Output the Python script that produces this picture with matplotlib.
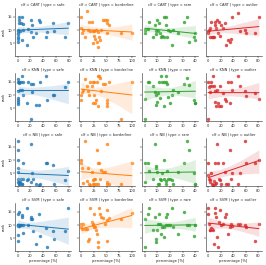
import matplotlib
matplotlib.use("Agg")
import matplotlib.pyplot as plt
import numpy as np
import seaborn as sns

sns.set_style("ticks")

clfs = ["CART", "KNN", "NB", "SVM"]
types = ["safe", "borderline", "rare", "outlier"]
colors = ["#1f77b4", "#ff7f0e", "#2ca02c", "#d62728"]

# percentage of examples of each type, per dataset
safe_x = [0, 0, 0, 0, 0, 0, 0.5, 1.5, 2.5, 3, 4, 5, 6.5, 7.5, 7.7, 9, 14, 15.5,
          20.5, 21.5, 23, 24, 29, 33.5, 35, 44, 45, 55, 56, 74, 79]
borderline_x = [0, 0, 1, 4.6, 8, 12.5, 14.5, 16, 18, 21, 23, 24, 26, 26, 28, 30,
                31, 33, 34, 36, 37, 40, 44, 47, 51, 51, 51, 54, 78, 100]
rare_x = [0, 0, 2.7, 3.5, 6.7, 8, 8.8, 9.3, 10.1, 10.7, 11.5, 12, 13.3, 14.1, 15,
          15.5, 16.5, 16.8, 17.3, 18.7, 20, 21.3, 22, 26, 30.7, 33, 34.7, 38.7, 39.5, 40]
outlier_x = [0, 0, 1.6, 2.7, 3.7, 5.3, 6.9, 8, 9.6, 10.6, 11.7, 13.3, 14.4, 16, 17.6,
             19.7, 21, 24, 26.6, 28.2, 32, 34.6, 37, 38.8, 48, 50.5, 58.5, 61, 74.5, 81.4]

# ranks
cart_safe = [8.5, 7.3, 6.5, 5.6, 10, 9.5, 9, 14.9, 12.5, 13.7, 9.7, 12.6, 6.2, 14.9, 10,
             12.3, 4.4, 10.5, 9.3, 13.7, 12, 7.3, 9, 13.7, 13, 7.3, 9.4, 12.8, 9.7, 7.3, 12.8]
knn_safe = [15.9, 15, 11.4, 9, 8.2, 7.5, 6.6, 15, 15, 14.5, 12, 15, 12, 17, 15, 10, 7,
            15, 1.2, 14.1, 11.2, 14.1, 6.3, 6.3, 15, 17.1, 8.1, 10.2, 10.2, 13.2, 15]
nb_safe = [17.2, 13.7, 10.2, 7.1, 5.6, 3.1, 1.9, 0.9, 0.9, 1.9, 1.9, 2.9, 1.2, 0.9, 9,
           3, 2.5, 3, 1.9, 16.2, 5, 3.1, 1, 0.6, 0.9, 9, 9, 8.1, 0.9, 2.5, 6]
svm_safe = [14.2, 10, 10, 9.8, 6.2, 4, 10, 10.2, 9.8, 15.1, 10, 10, 13.8, 13.2, 7, 10,
            16.4, 10, 12.3, 13.2, 12.3, 7.8, 3, 14.1, 5.9, 9.1, 1.7, 7.8, 4.9, 7.8, 16.4]

cart_borderline = [14.9, 10.8, 9, 10, 7.3, 17.2, 10.2, 13.1, 9.7, 13.1, 9.7, 5, 9.7, 7.9,
                   6.7, 10, 5.6, 9.3, 3.5, 7.3, 6.2, 10.2, 13.7, 13.7, 13.7, 12.8, 9, 12, 9, 9]
knn_borderline = [10.2, 8.2, 11, 12, 16, 13.3, 11.4, 10, 15, 13.5, 15, 7.2, 15, 10, 7.2,
                  8, 15, 17.1, 6, 17.1, 16.3, 11.4, 14.2, 14.2, 7.2, 6, 8.2, 15, 1.2, 15]
nb_borderline = [10.2, 9, 7, 1.6, 17.2, 2, 7.1, 1.2, 0.6, 5.6, 2.5, 0.9, 0.9, 3.1, 3.1,
                 0.9, 13.7, 9, 0.9, 9, 3.1, 6.2, 5.6, 5.6, 16.2, 1.9, 0.9, 0.9, 0.9, 9]
svm_borderline = [10.6, 9.4, 8.7, 10.6, 8.7, 8.7, 4.2, 4.9, 16.4, 11.3, 10.6, 10, 14.2,
                  9.4, 9.4, 8, 6.8, 3.6, 1.7, 16.4, 14.2, 13.2, 12.6, 10.6, 15.8, 4.2,
                  12, 12.6, 12.2, 14.5]

cart_rare = [9.1, 10, 10.5, 13.1, 7.3, 12, 8.5, 9.7, 13.7, 9.5, 12.6, 9.1, 7.3, 7.9, 7.3,
             14.9, 14.9, 12, 7.3, 10, 9.7, 4.4, 10.2, 9.1, 13.1, 14.9, 5.6, 7.3, 9, 6.2]
knn_rare = [8.4, 1.2, 15, 15, 13.3, 11.1, 6.3, 10.2, 7.5, 10.8, 15, 9, 17.1, 15, 6, 15,
            17.1, 15, 14.2, 9.4, 7.2, 10, 12, 11, 14.2, 16.3, 13.9, 8.2, 7.2, 7.2]
nb_rare = [9.1, 1.9, 9.1, 5.9, 2.9, 16.2, 7.9, 7.1, 5.5, 0.9, 0.9, 3.1, 2.5, 5, 10, 3.1,
           0.9, 2, 5.9, 3.1, 3.1, 2.5, 0.9, 5.4, 9.1, 17.1, 13.7, 5, 0.9, 0.9]
svm_rare = [12.2, 1.7, 14.2, 16.4, 8, 13.2, 3.6, 4.9, 8, 10.6, 14.2, 10.6, 6.8, 9.4, 9.4,
            5.5, 10, 13.2, 14.2, 10, 10, 16.4, 9.4, 6.8, 15.1, 10, 10, 5.8, 10, 10]

cart_outlier = [9.1, 9.5, 10, 10.8, 7.3, 13.1, 7.3, 7.3, 7.3, 12, 13.1, 10.8, 13.7, 9.1,
                13.1, 7.9, 12, 10.8, 12.6, 4.4, 6.2, 5.6, 6.5, 14.9, 16.6, 9.7, 10.2,
                9.1, 9.1, 14.9]
knn_outlier = [15, 1.2, 13, 13.3, 11, 15, 13.3, 17.1, 13.5, 11.4, 7.5, 6, 12, 7.2, 6,
               13.3, 6, 10.8, 8.4, 7.8, 15, 7.2, 15, 12, 17.1, 13.3, 11.4, 9.5, 10.8, 8.4]
nb_outlier = [9.1, 4.4, 3.1, 2.5, 1.9, 5, 0.9, 0.6, 2, 1, 9.1, 1.5, 16.2, 9.1, 3.1, 2.5,
              0.9, 9, 5.5, 0.9, 0.9, 13.7, 3.1, 5, 0.9, 5, 17.1, 9, 8.8, 10.2]
svm_outlier = [16.4, 14.2, 10.6, 8.3, 8, 9.1, 8.5, 8, 2.9, 16.4, 14.7, 13, 5.5, 1.7, 11.3,
               15.8, 10, 10.6, 13.2, 14.2, 6.8, 9.4, 10.6, 9.5, 10.6, 10.6, 10, 9.4, 4.2, 10.6]

xs = [safe_x, borderline_x, rare_x, outlier_x]
ranks = [
    [cart_safe, cart_borderline, cart_rare, cart_outlier],
    [knn_safe, knn_borderline, knn_rare, knn_outlier],
    [nb_safe, nb_borderline, nb_rare, nb_outlier],
    [svm_safe, svm_borderline, svm_rare, svm_outlier],
]
xticks = [[0, 20, 40, 60, 80], [0, 25, 50, 75, 100], [0, 10, 20, 30, 40], [0, 20, 40, 60, 80]]

W, H = 266, 265
fig = plt.figure(figsize=(W / 100, H / 100), dpi=100)
lefts = [15, 78.5, 142, 205.5]
tops = [8, 73, 138, 203]
aw, ah = 56, 48
fs = 2.6

for i, clf in enumerate(clfs):
    for j, t in enumerate(types):
        ax = fig.add_axes([lefts[j] / W, 1 - (tops[i] + ah) / H, aw / W, ah / H])
        sns.regplot(x=np.array(xs[j]), y=np.array(ranks[i][j]), ax=ax, color=colors[j],
                    seed=0, scatter_kws=dict(s=6, linewidths=0),
                    line_kws=dict(lw=0.7))
        ax.set_ylim(0.3, 18.3)
        ax.set_yticks([5, 10, 15])
        ax.set_xticks(xticks[j])
        ax.tick_params(labelsize=fs, length=1.2, width=0.35, pad=1)
        for s in ["top", "right"]:
            ax.spines[s].set_visible(False)
        for s in ["left", "bottom"]:
            ax.spines[s].set_linewidth(0.4)
        ax.set_title(f"clf = {clf} | type = {t}", fontsize=fs, pad=1.5)
        if j == 0:
            ax.set_ylabel("rank", fontsize=fs, labelpad=1)
        else:
            ax.set_ylabel("")
            ax.set_yticklabels([])
        if i == 3:
            ax.set_xlabel("percentage [%]", fontsize=fs, labelpad=1)
        else:
            ax.set_xlabel("")

fig.savefig("out.png", dpi=100)
